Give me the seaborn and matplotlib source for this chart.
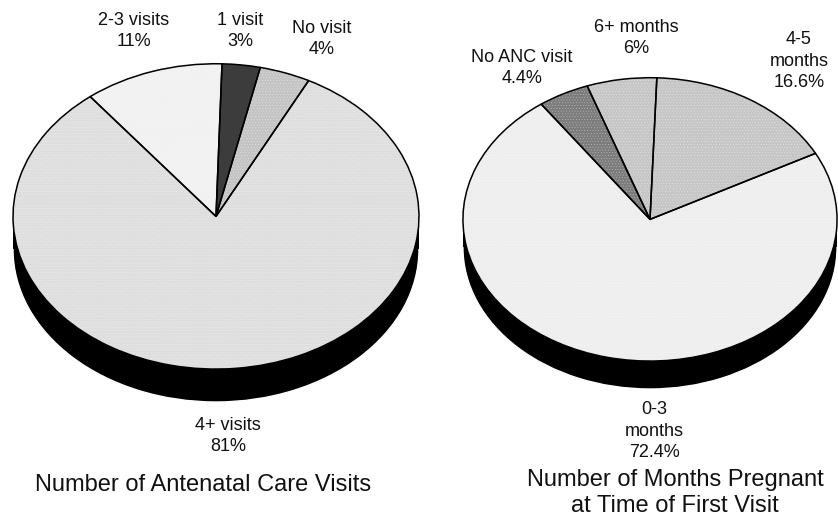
import matplotlib
matplotlib.use("Agg")
import matplotlib.pyplot as plt
import seaborn as sns

# share of women, wedges go clockwise from the top
visit_labels = ["1 visit\n3%", "No visit\n4%", "4+ visits\n81%", "2-3 visits\n11%"]
visit_values = [3, 4, 81, 11]
visit_colors = ["#3c3c3c", "#c4c4c4", "#dedede", "#f1f1f1"]
visit_hatch = [None, "......", "......", "......"]

month_labels = ["4-5\nmonths\n16.6%", "0-3\nmonths\n72.4%", "No ANC visit\n4.4%", "6+ months\n6%"]
month_values = [16.6, 72.4, 4.4, 6]
month_colors = ["#c6c6c6", "#eeeeee", "#7c7c7c", "#c6c6c6"]
month_hatch = ["......", "......", "......", "......"]

W, H = 838, 518

sns.set_theme(style="white")
plt.rcParams["font.family"] = ["Liberation Sans", "DejaVu Sans"]
plt.rcParams["hatch.linewidth"] = 0.25

fig = plt.figure(figsize=(W / 100, H / 100), dpi=100)


def draw_pie(values, colors, hatches, start, cx, cy, rx, ry, depth):
    # axes box in pixels, the pie is stretched into an ellipse
    ax = fig.add_axes([(cx - rx) / W, 1 - (cy + ry + depth) / H, 2 * rx / W, (2 * ry + depth) / H])
    low = -1 - 2 * depth / (2 * ry)

    # black side wall
    ax.pie([1], colors=["black"], radius=1, center=(0, low + 1), frame=True)
    ax.fill_between([-1, 1], low + 1, 0, color="black", lw=0)

    # dithered faces, then the outlines on top
    wedges, _ = ax.pie(values, colors=colors, startangle=start, counterclock=False, frame=True,
                       wedgeprops=dict(edgecolor="#ffffff80", linewidth=0))
    for w, h in zip(wedges, hatches):
        w.set_hatch(h)
    ax.pie(values, colors=colors, startangle=start, counterclock=False, frame=True,
           wedgeprops=dict(fill=False, edgecolor="black", linewidth=1.1))

    ax.set_aspect("auto")
    ax.set_xlim(-1.005, 1.005)
    ax.set_ylim(low, 1.005)
    ax.set_xticks([])
    ax.set_yticks([])
    sns.despine(ax=ax, left=True, bottom=True)
    ax.patch.set_alpha(0)
    return ax


def put_text(x, y, s, size=13, spacing=1.33):
    fig.text(x / W, 1 - y / H, s, ha="center", va="center", fontsize=size,
             color="#111111", linespacing=spacing)


draw_pie(visit_values, visit_colors, visit_hatch, 88.3, 216, 216, 204, 153, 33)
draw_pie(month_values, month_colors, month_hatch, 87.9, 650, 219, 188, 142, 28)

for lab, pos in zip(visit_labels, [(240, 31), (322, 39), (228, 436), (134, 31)]):
    put_text(pos[0], pos[1], lab)
for lab, pos in zip(month_labels, [(799, 61), (654, 431), (522, 68), (636, 38)]):
    put_text(pos[0], pos[1], lab)

put_text(203, 485, "Number of Antenatal Care Visits", 17)
put_text(675, 493, "Number of Months Pregnant\nat Time of First Visit", 17, 1.24)

fig.savefig("out.png", dpi=100)
